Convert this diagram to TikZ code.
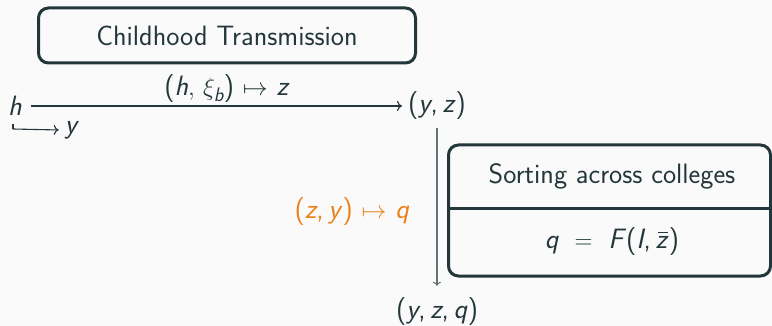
\documentclass[tikz,border=0pt]{standalone}
\usepackage{amsmath}
\usepackage{fontspec}
\usetikzlibrary{arrows.meta}
\definecolor{fg}{HTML}{23373B}
\definecolor{org}{HTML}{EB811B}
\definecolor{bg}{HTML}{FAFAFA}
\newcommand\vi[1]{\textit{#1}}
\newcommand\zbar{\vi{z}\llap{\raisebox{0.56em}{\rule{0.36em}{0.045em}}\hspace{0.03em}}}
\begin{document}
\begin{tikzpicture}[x=1pt,y=-1pt,
  font=\sffamily\fontsize{28}{34}\selectfont,
  every node/.style={text=fg, inner sep=0pt},
  box/.style={draw=fg, line width=3pt, rounded corners=10pt},
  arr/.style={-{To[length=5pt,width=10pt]}, draw=fg, line width=1.1pt},
  varr/.style={-{To[length=4pt,width=8pt]}, draw=fg!70, line width=1.1pt}]
\fill[bg] (0,0) rectangle (772,326);
\useasboundingbox (0,0) rectangle (772,326);
% top box
\node[box, minimum width=377pt, minimum height=55pt] (ct) at (227,35.5) {Childhood Transmission};
% first row
\node (h) at (15,106) {\vi{h}};
\node (yz) at (437,106) {(\vi{y},\,\vi{z})};
\draw[arr] ([xshift=9pt]h.east) -- ([xshift=-6pt]yz.west);
\node (lab1) at (227,89) {($\vi{h},\,\xi_{\vi{b}}$) $\mapsto$ \vi{z}};
% hook arrow
\coordinate (hk) at (13,129);
\node (y1) at (72,130) {\vi{y}};
\draw[arr] (hk) -- ([xshift=-6pt]y1.west);
\draw[fg, line width=1.1pt] (hk) -- ++(0,-5);
% vertical arrow
\node (yzq) at (437,312) {(\vi{y},\,\vi{z},\,\vi{q})};
\draw[varr] ([yshift=-8pt]yz.south) -- ([yshift=12pt]yzq.north);
\node[text=org] (lab2) at (352,212) {(\vi{z},\,\vi{y}) $\mapsto$ \vi{q}};
% sorting box
\node[box, minimum width=322pt, minimum height=131pt] (sb) at (609.5,210.5) {};
\draw[fg, line width=3pt] (sb.west |- 0,209) -- (sb.east |- 0,209);
\node (sbt) at (612,176) {Sorting across colleges};
\node (sbb) at (612,242) {\vi{q} $\;=\;$ \vi{F}(\vi{I},\,\zbar)};
\end{tikzpicture}
\end{document}
